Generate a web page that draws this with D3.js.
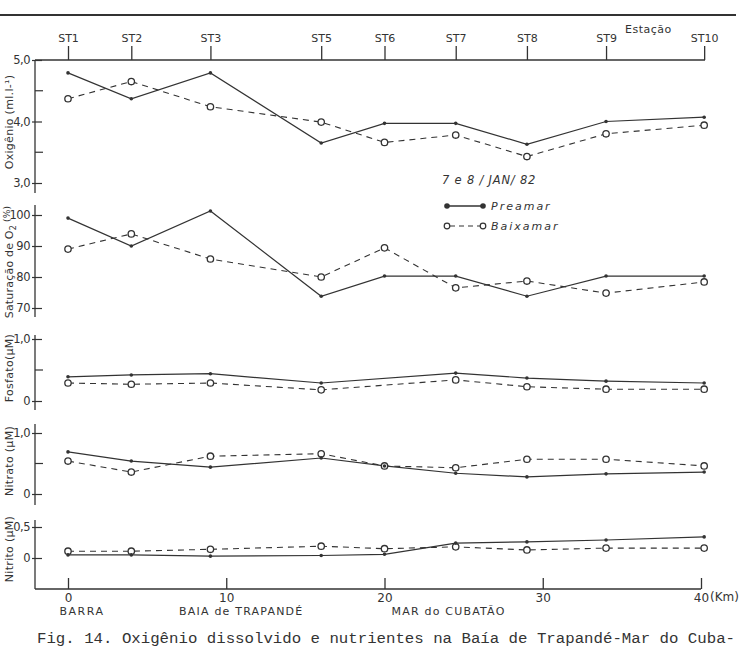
<!DOCTYPE html>
<html><head><meta charset="utf-8">
<script src="https://cdn.jsdelivr.net/npm/d3@7"></script>
<style>
body{margin:0;background:#fff;}
svg{display:block;}
text{font-family:"DejaVu Sans",sans-serif;fill:#333;}
</style></head>
<body>
<svg id="c" width="740" height="650"></svg>
<script>
// ---- data ----
const stations = ["ST1","ST2","ST3","ST5","ST6","ST7","ST8","ST9","ST10"];
const stationKm = [0, 4, 9, 16, 20, 24.5, 29, 34, 40.2];
const kmTicks = [0, 10, 20, 30, 40];
const kmLabels = ["0","10","20","30","40"];
const places = ["BARRA","BAIA de TRAPANDÉ","MAR do CUBATÃO"];

const oxyPre  = [4.79, 4.37, 4.79, 3.65, 3.97, 3.97, 3.63, 4.00, 4.07];
const oxyBai  = [4.37, 4.65, 4.24, 3.99, 3.66, 3.78, 3.43, 3.80, 3.94];
const satPre  = [99, 90, 101.3, 73.8, 80.3, 80.3, 73.8, 80.3, 80.3];
const satBai  = [89, 93.9, 85.8, 80, 89.4, 76.5, 78.7, 74.8, 78.4];
const fosPre  = [0.39, 0.42, 0.44, 0.29, null, 0.45, 0.37, 0.32, 0.29];
const fosBai  = [0.29, 0.27, 0.29, 0.18, null, 0.34, 0.23, 0.19, 0.19];
const nitraPre = [0.69, 0.54, 0.44, 0.59, 0.46, 0.34, 0.28, 0.33, 0.36];
const nitraBai = [0.54, 0.36, 0.62, 0.66, 0.46, 0.43, 0.57, 0.57, 0.46];
const nitriPre = [0.05, 0.05, 0.03, 0.04, 0.06, 0.24, 0.26, 0.29, 0.34];
const nitriBai = [0.11, 0.11, 0.14, 0.19, 0.15, 0.18, 0.13, 0.16, 0.16];

const oxyTicks = [5, 4, 3], oxyTickLabels = ["5,0","4,0","3,0"], oxyMinor = [4.5, 3.5];
const satTicks = [100, 90, 80, 70], satTickLabels = ["100","90","80","70"];
const fosTicks = [1, 0], fosTickLabels = ["1,0","0"], fosMinor = [0.5];
const nitraTicks = [1, 0], nitraTickLabels = ["1,0","0"], nitraMinor = [0.5];
const nitriTicks = [0.5, 0], nitriTickLabels = ["0,5","0"];

// ---- layout ----
const svg = d3.select("#c");
const ink = "#333";
const axX = 35;
const x = d3.scaleLinear().domain([0, 40]).range([68, 701]);

const panels = [
  {pre: oxyPre, bai: oxyBai, domain: [3, 5], range: [183, 60], ext: [60, 193],
   ticks: oxyTicks, labels: oxyTickLabels, minor: oxyMinor, title: "Oxigênio (ml.l-¹)", ty: 122},
  {pre: satPre, bai: satBai, domain: [70, 100], range: [308, 215], ext: [205, 317],
   ticks: satTicks, labels: satTickLabels, minor: [], title: null, ty: 262},
  {pre: fosPre, bai: fosBai, domain: [0, 1], range: [401, 339], ext: [335, 410],
   ticks: fosTicks, labels: fosTickLabels, minor: fosMinor, title: "Fosfato(µM)", ty: 368},
  {pre: nitraPre, bai: nitraBai, domain: [0, 1], range: [494, 433], ext: [424, 505],
   ticks: nitraTicks, labels: nitraTickLabels, minor: nitraMinor, title: "Nitrato (µM)", ty: 461},
  {pre: nitriPre, bai: nitriBai, domain: [0, 0.5], range: [558, 527], ext: [520, 589],
   ticks: nitriTicks, labels: nitriTickLabels, minor: [], title: "Nitrito (µM)", ty: 549}
];

// top rule
svg.append("line").attr("x1", 0).attr("x2", 736).attr("y1", 15).attr("y2", 15)
  .attr("stroke", ink).attr("stroke-width", 2);

// station axis (top)
svg.append("line").attr("x1", axX).attr("x2", 705).attr("y1", 60).attr("y2", 60)
  .attr("stroke", ink).attr("stroke-width", 1.3);
const topAxis = svg.append("g").attr("transform", "translate(0,60)")
  .call(d3.axisTop(x).tickValues(stationKm).tickFormat((d, i) => stations[i]).tickSize(14).tickPadding(4));
topAxis.select(".domain").remove();
topAxis.selectAll("line").attr("stroke", ink).attr("stroke-width", 1.3);
topAxis.selectAll("text").attr("font-size", 11).attr("font-family", "DejaVu Sans").attr("fill", ink);
svg.append("text").attr("x", 625).attr("y", 33).attr("font-size", 11).attr("letter-spacing", 0.5).text("Estação");

// bottom axis
svg.append("line").attr("x1", axX).attr("x2", 701).attr("y1", 589).attr("y2", 589)
  .attr("stroke", ink).attr("stroke-width", 1.3);
const botAxis = svg.append("g").attr("transform", "translate(0,589)")
  .call(d3.axisBottom(x).tickValues(kmTicks).tickFormat((d, i) => kmLabels[i]).tickSize(0).tickPadding(4));
botAxis.select(".domain").remove();
botAxis.selectAll("text").attr("font-size", 12).attr("font-family", "DejaVu Sans").attr("fill", ink);
botAxis.selectAll(".tick").append("line").attr("y1", 0).attr("y2", -11).attr("stroke", ink).attr("stroke-width", 1.3);
svg.append("text").attr("x", x(40) + 9).attr("y", 601).attr("font-size", 12).text("(Km)");
svg.append("text").attr("x", x(0) + 14).attr("y", 615).attr("text-anchor", "middle").attr("font-size", 11).attr("letter-spacing", 1.5).text(places[0]);
svg.append("text").attr("x", x(10) + 15).attr("y", 615).attr("text-anchor", "middle").attr("font-size", 11).attr("letter-spacing", 1.2).text(places[1]);
svg.append("text").attr("x", x(20) + 64).attr("y", 615).attr("text-anchor", "middle").attr("font-size", 11).attr("letter-spacing", 1.2).text(places[2]);

// panels
const lineGen = (y) => d3.line().defined(d => d.v != null).x(d => x(d.km)).y(d => y(d.v));
panels.forEach((p, pi) => {
  const y = d3.scaleLinear().domain(p.domain).range(p.range);
  svg.append("line").attr("x1", axX).attr("x2", axX).attr("y1", p.ext[0]).attr("y2", p.ext[1])
    .attr("stroke", ink).attr("stroke-width", 1.3);
  const ax = svg.append("g").attr("transform", `translate(${axX},0)`)
    .call(d3.axisLeft(y).tickValues(p.ticks).tickFormat((d, i) => p.labels[i]).tickSize(3).tickPadding(2));
  ax.select(".domain").remove();
  ax.selectAll("line").attr("x1", 7).attr("x2", -3).attr("stroke", ink).attr("stroke-width", 1.2);
  ax.selectAll("text").attr("font-size", 11.5).attr("font-family", "DejaVu Sans").attr("fill", ink).attr("letter-spacing", -0.5);
  p.minor.forEach(m => {
    svg.append("line").attr("x1", axX).attr("x2", axX + 8).attr("y1", y(m)).attr("y2", y(m))
      .attr("stroke", ink).attr("stroke-width", 1.2);
  });
  const pre = stationKm.map((km, i) => ({km, v: p.pre[i]})).filter(d => d.v != null);
  const bai = stationKm.map((km, i) => ({km, v: p.bai[i]})).filter(d => d.v != null);
  svg.append("path").datum(bai).attr("d", lineGen(y)).attr("fill", "none")
    .attr("stroke", ink).attr("stroke-width", 1.1).attr("stroke-dasharray", "6,5");
  svg.append("path").datum(pre).attr("d", lineGen(y)).attr("fill", "none")
    .attr("stroke", ink).attr("stroke-width", 1.2);
  svg.append("g").selectAll("circle").data(bai).join("circle")
    .attr("cx", d => x(d.km)).attr("cy", d => y(d.v)).attr("r", 3.2)
    .attr("fill", "#fff").attr("stroke", ink).attr("stroke-width", 1.3);
  svg.append("g").selectAll("circle").data(pre).join("circle")
    .attr("cx", d => x(d.km)).attr("cy", d => y(d.v)).attr("r", 1.8).attr("fill", ink);
  if (p.title) {
    svg.append("text").attr("transform", `translate(13,${p.ty}) rotate(-90)`)
      .attr("text-anchor", "middle").attr("font-size", 11).attr("letter-spacing", 0.3).text(p.title);
  }
});

// saturation title with subscript
const st = svg.append("text").attr("transform", "translate(13,262) rotate(-90)")
  .attr("text-anchor", "middle").attr("font-size", 11).attr("letter-spacing", 0.2);
st.append("tspan").text("Saturação de O");
st.append("tspan").attr("dy", 3).attr("font-size", 8).text("2");
st.append("tspan").attr("dy", -6).attr("font-size", 9).text(" (%)");

// legend
const lg = svg.append("g");
lg.append("text").attr("x", 442).attr("y", 184).attr("font-size", 11.5).attr("font-style", "italic")
  .attr("letter-spacing", 0.8).text("7 e 8 / JAN/ 82");
lg.append("line").attr("x1", 447).attr("x2", 483).attr("y1", 206).attr("y2", 206).attr("stroke", ink).attr("stroke-width", 1.3);
[447, 483].forEach(cx => lg.append("circle").attr("cx", cx).attr("cy", 206).attr("r", 2.8).attr("fill", ink));
lg.append("text").attr("x", 491).attr("y", 210).attr("font-size", 11).attr("font-style", "italic")
  .attr("letter-spacing", 2).text("Preamar");
lg.append("line").attr("x1", 450).attr("x2", 480).attr("y1", 226).attr("y2", 226).attr("stroke", ink)
  .attr("stroke-width", 1.1).attr("stroke-dasharray", "5,4");
[447, 483].forEach(cx => lg.append("circle").attr("cx", cx).attr("cy", 226).attr("r", 2.8).attr("fill", "#fff").attr("stroke", ink).attr("stroke-width", 1.2));
lg.append("text").attr("x", 491).attr("y", 230).attr("font-size", 11).attr("font-style", "italic")
  .attr("letter-spacing", 2).text("Baixamar");

// caption
svg.append("text").attr("x", 37).attr("y", 643)
  .attr("font-size", 14).attr("textLength", 698).attr("lengthAdjust", "spacingAndGlyphs")
  .style("font-family", "'Liberation Mono','DejaVu Sans Mono',monospace")
  .text("Fig. 14. Oxigênio dissolvido e nutrientes na Baía de Trapandé-Mar do Cuba-");
</script>
</body></html>
